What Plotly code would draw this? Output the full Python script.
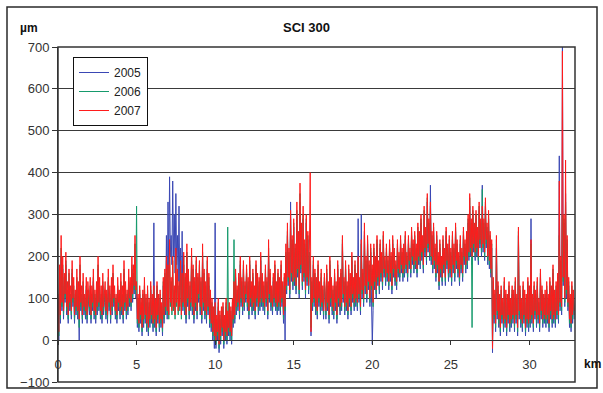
import plotly.graph_objects as go

# Sampling grid (km) — one reading every 0.05 km (20 readings per km row below)
KM_START = 0.0
KM_STEP = 0.05

TITLE = "SCI 300"
Y_UNIT = "µm"
X_UNIT = "km"
X_TICKS = [0, 5, 10, 15, 20, 25, 30]
Y_TICKS = [-100, 0, 100, 200, 300, 400, 500, 600, 700]

sci_2005 = [
    90, 0, 150, 40, 200, 70, 170, 50, 130, 90, 180, 60, 110, 40, 140, 70, 100, 50, 160, 80,
    120, 40, 100, 60, 140, 50, 110, 0, 170, 70, 100, 40, 130, 60, 90, 50, 120, 40, 110, 80,
    60, 120, 40, 100, 70, 140, 50, 100, 40, 110, 60, 170, 70, 120, 50, 100, 40, 130, 60, 90,
    110, 50, 100, 40, 140, 70, 100, 40, 120, 60, 150, 80, 100, 50, 90, 40, 120, 70, 100, 50,
    130, 60, 100, 40, 160, 70, 110, 50, 100, 60, 140, 80, 120, 70, 170, 90, 150, 110, 200, 100,
    110, 30, 90, 20, 110, 40, 80, 10, 100, 30, 120, 40, 90, 20, 110, 10, 80, 30, 120, 40,
    90, 20, 280, 30, 80, 10, 120, 40, 90, 20, 100, 30, 70, 10, 130, 40, 150, 60, 250, 50,
    330, 150, 390, 200, 250, 180, 380, 200, 300, 160, 350, 180, 250, 140, 320, 120, 220, 90, 260, 70,
    180, 60, 130, 40, 200, 80, 140, 50, 110, 70, 190, 60, 150, 40, 120, 70, 170, 50, 130, 90,
    160, 60, 120, 40, 200, 70, 140, 50, 110, 40, 170, 60, 130, 30, 100, 20, 80, 0, 60, -20,
    280, -20, 40, 0, 80, -30, 50, -10, 60, 10, 70, -20, 40, 0, 80, -10, 50, 10, 70, 0,
    60, -10, 80, 30, 120, 40, 150, 60, 110, 70, 140, 50, 180, 80, 130, 60, 170, 70, 120, 90,
    160, 70, 130, 50, 180, 80, 120, 60, 150, 70, 110, 50, 170, 80, 140, 60, 130, 70, 190, 80,
    140, 70, 120, 60, 160, 80, 130, 50, 200, 90, 150, 70, 110, 60, 140, 80, 170, 70, 120, 60,
    150, 70, 130, 60, 170, 80, 120, 40, 140, 0, 200, 110, 250, 130, 200, 100, 330, 140, 230, 120,
    270, 130, 210, 110, 300, 150, 240, 100, 330, 160, 260, 120, 290, 140, 220, 100, 280, 130, 240, 110,
    200, 180, 10, 130, 70, 180, 80, 150, 60, 130, 50, 170, 80, 120, 60, 150, 70, 110, 50, 140,
    100, 50, 160, 70, 120, 40, 180, 80, 130, 60, 110, 50, 150, 70, 120, 40, 170, 80, 130, 60,
    150, 70, 230, 90, 130, 60, 170, 70, 120, 50, 160, 80, 140, 60, 190, 90, 130, 70, 170, 80,
    140, 70, 290, 90, 130, 60, 300, 100, 150, 80, 260, 110, 180, 90, 230, 120, 170, 80, 210, 110,
    -10, 70, 210, 120, 180, 100, 230, 130, 170, 110, 220, 140, 190, 120, 240, 150, 180, 130, 210, 140,
    180, 120, 220, 140, 190, 110, 230, 150, 200, 130, 170, 120, 220, 150, 190, 140, 230, 160, 200, 140,
    210, 150, 240, 160, 190, 140, 230, 170, 200, 150, 250, 180, 220, 160, 240, 170, 210, 150, 260, 180,
    240, 170, 280, 190, 230, 160, 300, 200, 250, 180, 330, 210, 270, 190, 370, 180, 240, 160, 260, 170,
    210, 140, 240, 160, 190, 120, 220, 150, 180, 130, 230, 160, 200, 130, 250, 170, 210, 140, 230, 150,
    200, 130, 240, 160, 210, 140, 260, 170, 220, 150, 190, 130, 230, 160, 200, 140, 250, 180, 220, 160,
    240, 170, 280, 190, 320, 200, 270, 180, 300, 210, 260, 190, 290, 200, 250, 180, 310, 220, 270, 200,
    370, 210, 270, 190, 320, 220, 260, 180, 290, 170, 240, 150, 220, -30, 130, 40, 100, 20, 220, 50,
    120, 30, 90, 10, 110, 40, 80, 20, 130, 30, 100, 10, 90, 40, 120, 20, 80, 30, 110, 40,
    100, 20, 130, 40, 90, 10, 250, 50, 110, 30, 80, 20, 120, 40, 100, 10, 90, 30, 130, 20,
    110, 30, 290, 40, 90, 20, 120, 50, 100, 30, 130, 40, 80, 20, 150, 50, 110, 30, 90, 40,
    100, 30, 120, 40, 90, 20, 130, 50, 110, 30, 160, 40, 100, 30, 120, 50, 140, 40, 440, 70,
    180, 60, 700, 130, 280, 80, 350, 100, 230, 70, 130, 30, 90, 20, 120, 40, 100, 50,
]

sci_2006 = [
    100, 10, 170, 50, 220, 80, 180, 60, 150, 100, 190, 70, 120, 50, 160, 80, 110, 60, 170, 90,
    130, 50, 110, 70, 150, 60, 120, 30, 180, 80, 110, 50, 140, 70, 100, 60, 130, 50, 120, 90,
    70, 130, 50, 110, 80, 150, 60, 110, 50, 120, 70, 180, 80, 130, 60, 110, 50, 140, 70, 100,
    120, 60, 110, 50, 150, 80, 110, 50, 130, 70, 160, 90, 110, 60, 100, 50, 130, 80, 110, 60,
    140, 70, 110, 50, 170, 80, 120, 60, 110, 70, 150, 90, 130, 80, 180, 100, 160, 120, 230, 110,
    320, 40, 100, 30, 120, 50, 90, 20, 110, 40, 130, 50, 100, 30, 120, 20, 90, 40, 130, 50,
    100, 30, 120, 40, 90, 20, 130, 50, 100, 30, 110, 40, 80, 20, 140, 50, 160, 70, 190, 60,
    170, 50, 220, 80, 140, 60, 190, 70, 120, 50, 200, 80, 160, 60, 130, 70, 180, 50, 150, 80,
    200, 70, 150, 50, 210, 90, 160, 60, 130, 80, 200, 70, 170, 50, 140, 80, 190, 60, 150, 100,
    180, 70, 140, 50, 210, 80, 160, 60, 130, 50, 190, 70, 150, 40, 110, 30, 90, 10, 70, 0,
    80, -10, 50, 10, 90, -20, 60, 0, 70, 20, 80, -10, 50, 10, 90, 0, 270, 20, 80, 10,
    70, 0, 90, 40, 240, 50, 160, 70, 120, 80, 150, 60, 190, 90, 140, 70, 180, 80, 130, 100,
    170, 80, 140, 60, 190, 90, 130, 70, 160, 80, 120, 60, 180, 90, 150, 70, 140, 80, 200, 90,
    150, 80, 130, 70, 170, 90, 140, 60, 220, 100, 160, 80, 120, 70, 150, 90, 180, 80, 130, 70,
    160, 80, 140, 70, 180, 90, 130, 50, 150, 70, 210, 120, 260, 140, 210, 110, 290, 150, 240, 130,
    280, 140, 220, 120, 310, 160, 250, 110, 350, 170, 270, 130, 300, 150, 230, 110, 290, 140, 250, 120,
    210, 190, 30, 140, 80, 190, 90, 160, 70, 140, 60, 180, 90, 130, 70, 160, 80, 120, 60, 150,
    110, 60, 170, 80, 130, 50, 190, 90, 140, 70, 120, 60, 160, 80, 130, 50, 180, 90, 140, 70,
    160, 80, 240, 100, 140, 70, 180, 80, 130, 60, 170, 90, 150, 70, 200, 100, 140, 80, 180, 90,
    150, 80, 190, 100, 140, 70, 230, 110, 160, 90, 250, 120, 190, 100, 240, 130, 180, 90, 220, 120,
    170, 80, 220, 130, 190, 110, 240, 140, 180, 120, 230, 150, 200, 130, 250, 160, 190, 140, 220, 150,
    190, 130, 230, 150, 200, 120, 240, 160, 210, 140, 180, 130, 230, 160, 200, 150, 240, 170, 210, 150,
    220, 160, 250, 170, 200, 150, 240, 180, 210, 160, 260, 190, 230, 170, 250, 180, 220, 160, 270, 190,
    250, 180, 290, 200, 240, 170, 310, 210, 260, 190, 340, 220, 280, 200, 320, 190, 250, 170, 270, 180,
    220, 150, 250, 170, 200, 130, 230, 160, 190, 140, 240, 170, 210, 140, 260, 180, 220, 150, 240, 160,
    210, 140, 250, 170, 220, 150, 270, 180, 230, 160, 200, 140, 240, 170, 210, 150, 260, 190, 230, 170,
    250, 180, 290, 200, 340, 210, 280, 30, 310, 220, 270, 200, 300, 210, 260, 190, 320, 230, 280, 210,
    360, 220, 280, 200, 330, 230, 270, 190, 300, 180, 250, 160, 230, -10, 140, 50, 110, 30, 240, 60,
    130, 40, 100, 20, 120, 50, 90, 30, 140, 40, 110, 20, 100, 50, 130, 30, 90, 40, 120, 50,
    110, 30, 140, 50, 100, 20, 260, 60, 120, 40, 90, 30, 130, 50, 110, 20, 100, 40, 140, 30,
    120, 40, 230, 50, 100, 30, 130, 60, 110, 40, 140, 50, 90, 30, 160, 60, 120, 40, 100, 50,
    110, 40, 130, 50, 100, 30, 140, 60, 120, 40, 170, 50, 110, 40, 130, 60, 150, 50, 250, 80,
    190, 70, 300, 140, 290, 90, 330, 110, 240, 80, 140, 40, 100, 30, 130, 50, 110, 60,
]

sci_2007 = [
    110, 20, 180, 60, 250, 90, 200, 70, 160, 110, 210, 80, 140, 60, 170, 90, 130, 70, 190, 100,
    150, 60, 120, 80, 170, 70, 140, 50, 200, 90, 130, 60, 160, 80, 110, 70, 150, 60, 140, 100,
    80, 150, 60, 130, 90, 170, 70, 120, 60, 140, 80, 200, 90, 150, 70, 130, 60, 160, 80, 110,
    140, 70, 120, 60, 170, 90, 130, 60, 150, 80, 180, 100, 130, 70, 110, 60, 150, 90, 120, 70,
    160, 80, 130, 60, 190, 90, 140, 70, 120, 80, 170, 100, 150, 90, 200, 110, 180, 130, 250, 120,
    140, 50, 110, 40, 130, 60, 100, 30, 120, 50, 150, 60, 110, 40, 130, 30, 100, 50, 140, 60,
    110, 40, 130, 50, 100, 30, 140, 60, 110, 40, 120, 50, 90, 30, 150, 60, 170, 80, 200, 70,
    180, 60, 240, 90, 150, 70, 200, 80, 130, 60, 220, 90, 170, 70, 140, 80, 190, 60, 160, 90,
    210, 80, 160, 60, 230, 100, 170, 70, 140, 90, 220, 80, 180, 60, 150, 90, 200, 70, 160, 110,
    190, 80, 150, 60, 230, 90, 170, 70, 140, 60, 200, 80, 160, 50, 120, 40, 100, 20, 80, 10,
    90, 0, 60, 20, 100, -10, 70, 10, 80, 30, 90, 0, 60, 20, 100, 10, 70, 30, 90, 20,
    80, 10, 100, 50, 140, 60, 170, 80, 130, 90, 160, 70, 200, 100, 150, 80, 190, 90, 140, 110,
    180, 90, 150, 70, 200, 100, 140, 80, 170, 90, 130, 70, 190, 100, 160, 80, 150, 90, 210, 100,
    160, 90, 140, 80, 180, 100, 150, 70, 240, 110, 170, 90, 130, 80, 160, 100, 190, 90, 140, 80,
    170, 90, 150, 80, 190, 100, 140, 60, 160, 80, 230, 130, 280, 150, 220, 120, 310, 160, 250, 140,
    290, 150, 230, 130, 330, 170, 260, 120, 375, 180, 280, 140, 320, 160, 240, 120, 300, 150, 260, 130,
    220, 400, 20, 150, 90, 200, 100, 170, 80, 150, 70, 190, 100, 140, 80, 170, 90, 130, 70, 160,
    120, 70, 180, 90, 140, 60, 200, 100, 150, 80, 130, 70, 170, 90, 140, 60, 190, 100, 150, 80,
    170, 90, 250, 110, 150, 80, 190, 90, 140, 70, 180, 100, 160, 80, 210, 110, 150, 90, 190, 100,
    160, 90, 200, 110, 150, 80, 240, 120, 170, 100, 280, 130, 200, 110, 250, 140, 190, 100, 230, 130,
    180, 90, 230, 140, 200, 120, 250, 150, 190, 130, 240, 160, 210, 140, 260, 170, 200, 150, 230, 160,
    200, 140, 240, 160, 210, 130, 250, 170, 220, 150, 190, 140, 240, 170, 210, 160, 250, 180, 220, 160,
    230, 170, 260, 180, 210, 160, 250, 190, 220, 170, 270, 200, 240, 180, 260, 190, 230, 170, 280, 200,
    260, 190, 300, 210, 250, 180, 320, 220, 270, 200, 350, 230, 290, 210, 330, 200, 260, 180, 280, 190,
    230, 160, 260, 180, 210, 140, 240, 170, 200, 150, 250, 180, 220, 150, 270, 190, 230, 160, 250, 170,
    220, 150, 260, 180, 230, 160, 280, 190, 240, 170, 210, 150, 250, 180, 220, 160, 270, 200, 240, 180,
    260, 190, 300, 210, 350, 220, 290, 200, 320, 230, 280, 210, 310, 220, 270, 200, 330, 240, 290, 220,
    320, 230, 290, 210, 340, 240, 280, 200, 310, 190, 260, 170, 240, -20, 150, 60, 120, 40, 250, 70,
    140, 50, 110, 30, 130, 60, 100, 40, 150, 50, 120, 30, 110, 60, 140, 40, 100, 50, 130, 60,
    120, 40, 150, 60, 110, 30, 270, 70, 130, 50, 100, 40, 140, 60, 120, 30, 110, 50, 150, 40,
    130, 50, 240, 60, 110, 40, 140, 70, 120, 50, 150, 60, 100, 40, 170, 70, 130, 50, 110, 60,
    120, 50, 140, 60, 110, 40, 150, 70, 130, 50, 180, 60, 120, 50, 140, 70, 160, 60, 380, 90,
    200, 80, 690, 150, 300, 100, 430, 120, 250, 90, 150, 50, 110, 40, 140, 60, 120, 70,
]

SERIES = [("2005", sci_2005, "#3a47b4"),
          ("2006", sci_2006, "#169a6c"),
          ("2007", sci_2007, "#ff1c1c")]

W, H = 603, 393
L, R, T, B = 58, 28, 47, 11
PW, PH = W - L - R, H - T - B

def px_x(px):
    return (px - L) / PW

def px_y(py):
    return (H - B - py) / PH

fig = go.Figure()
for name, vals, col in SERIES:
    km = [round(KM_START + i * KM_STEP, 3) for i in range(len(vals))]
    fig.add_trace(go.Scatter(x=km, y=vals, mode="lines", name=name,
                             line=dict(color=col, width=1), hoverinfo="skip"))

FONT = "Liberation Sans, Arial, sans-serif"
ymin, ymax = Y_TICKS[0], Y_TICKS[-1]

fig.update_layout(
    width=W, height=H, autosize=False,
    margin=dict(l=L, r=R, t=T, b=B, autoexpand=False),
    paper_bgcolor="white", plot_bgcolor="white",
    font=dict(family=FONT, size=13, color="#222"),
    showlegend=True, hovermode=False,
    legend=dict(x=px_x(73), y=px_y(57), xanchor="left", yanchor="top",
                bgcolor="white", bordercolor="#111", borderwidth=1,
                font=dict(size=12, color="#222"), itemwidth=30,
                tracegroupgap=0),
    xaxis=dict(range=[0, 32.9], tickvals=X_TICKS, showgrid=False,
               zeroline=False, showline=True, linecolor="#333", linewidth=1,
               ticks="outside", ticklen=4, tickcolor="#333", automargin=False,
               anchor="free", position=(0 - ymin) / (ymax - ymin),
               ticklabelstandoff=8,
               tickfont=dict(size=13, color="#333")),
    yaxis=dict(range=[ymin, ymax], tickvals=Y_TICKS, showgrid=True,
               gridcolor="#3a3a3a", gridwidth=1, zeroline=False,
               showline=True, linecolor="#333", linewidth=1, automargin=False,
               ticks="outside", ticklen=5, tickcolor="#333",
               tickfont=dict(size=13, color="#333")),
    shapes=[
        dict(type="rect", xref="x domain", yref="y domain", x0=0, x1=1, y0=0, y1=1,
             line=dict(color="#333", width=1.5), layer="above"),
        dict(type="rect", xref="paper", yref="paper",
             x0=px_x(7), x1=px_x(597), y0=px_y(388), y1=px_y(7),
             line=dict(color="#2a2a2a", width=1.5), layer="below"),
    ],
    annotations=[
        dict(text="<b>" + TITLE + "</b>", xref="paper", yref="paper",
             x=px_x(306), y=px_y(28), showarrow=False, xanchor="center",
             yanchor="middle", font=dict(size=13, color="#111")),
        dict(text="<b>" + Y_UNIT + "</b>", xref="paper", yref="paper",
             x=px_x(18), y=px_y(28), showarrow=False, xanchor="left",
             yanchor="middle", font=dict(size=12, color="#111")),
        dict(text="<b>" + X_UNIT + "</b>", xref="paper", yref="paper",
             x=px_x(582), y=px_y(364), showarrow=False, xanchor="left",
             yanchor="middle", font=dict(size=12, color="#111")),
    ],
)

fig.write_html(
    "out.html",
    config={"displayModeBar": False, "staticPlot": True},
    post_script="document.body.style.margin='0';document.body.style.overflow='hidden';",
)
